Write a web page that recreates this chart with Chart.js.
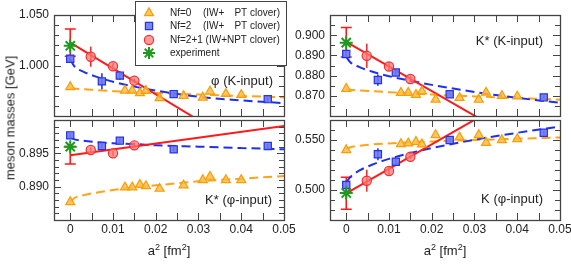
<!DOCTYPE html>
<html><head><meta charset="utf-8">
<script src="https://cdn.jsdelivr.net/npm/chart.js@4.4.1/dist/chart.umd.min.js"></script>
<style>
html,body{margin:0;padding:0;background:#fff;}
#wrap{position:relative;width:571px;height:275px;overflow:hidden;font-family:"Liberation Sans",Arial,sans-serif;color:#222;}
canvas{position:absolute;left:0;top:0;}
.t{position:absolute;white-space:nowrap;font-size:13px;line-height:1;}
.t sup{font-size:9px;vertical-align:5px;line-height:0;}
</style>
</head><body><div id="wrap">
<canvas id="c0" width="571" height="275" style="width:571px;height:275px"></canvas>
<canvas id="c1" width="571" height="275" style="width:571px;height:275px"></canvas>
<canvas id="c2" width="571" height="275" style="width:571px;height:275px"></canvas>
<canvas id="c3" width="571" height="275" style="width:571px;height:275px"></canvas>
<div class="t" id="ytitle" style="left:10px;top:118px;transform:translate(-50%,-50%) rotate(-90deg);">meson masses [GeV]</div>
<div class="t" style="left:169px;top:250px;transform:translate(-50%,-50%);">a<sup>2</sup> [fm<sup>2</sup>]</div>
<div class="t" style="left:445px;top:250px;transform:translate(-50%,-50%);">a<sup>2</sup> [fm<sup>2</sup>]</div>
</div>
<script>
// ---------- data ----------
const A2_NF0  = [0, 0.0128, 0.0145, 0.0163, 0.0177, 0.0209, 0.0265, 0.0310, 0.0327, 0.0364, 0.0400];
const A2_NF2  = [0, 0.0074, 0.0116, 0.0242, 0.0462];
const A2_NF21 = [0.0048, 0.0100, 0.0150];
const A2_FIT  = [0, 0.001, 0.003, 0.006, 0.01, 0.015, 0.02, 0.03, 0.04, 0.05];
const A2_LINE = [0, 0.05];

// phi (K-input)
const PHI_K_NF0 = [0.9787, 0.9753, 0.9753, 0.9727, 0.9750, 0.9677, 0.9700, 0.9683, 0.9743, 0.9720, 0.9710];
const PHI_K_NF2 = [1.0067, 0.9843, 0.9900, 0.9717, 0.9667];
const PHI_K_NF2_ERR = [0.003, 0.008, 0.004, 0.003, 0.003];
const PHI_K_NF21 = [1.0087, 0.9993, 0.9850];
const PHI_K_NF21_ERR = [0.010, 0.003, 0.002];
const PHI_K_EXTRAP = [1.0227, 0.0135];
const PHI_K_EXP = 1.0195;
const PHI_K_LINE = [1.0227, 0.8947];
const PHI_K_FIT0 = [0.9778, 0.9772, 0.9765, 0.9757, 0.9746, 0.9736, 0.9727, 0.9712, 0.9698, 0.9685];
const PHI_K_FIT2 = [1.0060, 0.9990, 0.9940, 0.9890, 0.9840, 0.9791, 0.9752, 0.9690, 0.9655, 0.9627];

// K* (K-input)
const KST_K_NF0 = [0.8735, 0.8715, 0.8715, 0.8705, 0.8722, 0.8682, 0.8690, 0.8681, 0.8716, 0.8700, 0.8697];
const KST_K_NF2 = [0.8907, 0.8778, 0.8815, 0.8708, 0.8692];
const KST_K_NF2_ERR = [0.0015, 0.0028, 0.001, 0.001, 0.001];
const KST_K_NF21 = [0.8898, 0.8845, 0.8783];
const KST_K_NF21_ERR = [0.006, 0.002, 0.0015];
const KST_K_EXTRAP = [0.8965, 0.0073];
const KST_K_EXP = 0.8963;
const KST_K_LINE = [0.8967, 0.8358];
const KST_K_FIT0 = [0.8735, 0.8730, 0.8727, 0.8723, 0.8718, 0.8712, 0.8706, 0.8697, 0.8689, 0.8681];
const KST_K_FIT2 = [0.8893, 0.8865, 0.8843, 0.8820, 0.8797, 0.8775, 0.8754, 0.8719, 0.8690, 0.8665];

// K* (phi-input)
const KST_PHI_NF0 = [0.8877, 0.8899, 0.8899, 0.8903, 0.8901, 0.8897, 0.8902, 0.8910, 0.8915, 0.8910, 0.8910];
const KST_PHI_NF2 = [0.8977, 0.8961, 0.8969, 0.8956, 0.8961];
const KST_PHI_NF2_ERR = [0.0003, 0.0003, 0.0003, 0.0003, 0.0003];
const KST_PHI_NF21 = [0.8955, 0.8950, 0.8962];
const KST_PHI_NF21_ERR = [0.0004, 0.0004, 0.0004];
const KST_PHI_EXTRAP = [0.8947, 0.0013];
const KST_PHI_EXP = 0.8960;
const KST_PHI_LINE = [0.8947, 0.8991];
const KST_PHI_FIT0 = [0.8877, 0.8883, 0.8887, 0.8891, 0.8895, 0.8899, 0.8902, 0.8908, 0.8912, 0.8916];
const KST_PHI_FIT2 = [0.8974, 0.8971, 0.8969, 0.8967, 0.8965, 0.8964, 0.8962, 0.8960, 0.8958, 0.8956];

// K (phi-input)
const K_PHI_NF0 = [0.5400, 0.5460, 0.5467, 0.5483, 0.5457, 0.5550, 0.5527, 0.5550, 0.5473, 0.5500, 0.5510];
const K_PHI_NF2 = [0.5050, 0.5357, 0.5283, 0.5500, 0.5573];
const K_PHI_NF2_ERR = [0.004, 0.006, 0.003, 0.002, 0.002];
const K_PHI_NF21 = [0.5093, 0.5190, 0.5333];
const K_PHI_NF21_ERR = [0.011, 0.004, 0.002];
const K_PHI_EXTRAP = [0.4967, 0.016];
const K_PHI_EXP = 0.4970;
const K_PHI_LINE = [0.4967, 0.6192];
const K_PHI_FIT0 = [0.5410, 0.5428, 0.5442, 0.5455, 0.5466, 0.5477, 0.5486, 0.5500, 0.5513, 0.5525];
const K_PHI_FIT2 = [0.5075, 0.5133, 0.5193, 0.5252, 0.5311, 0.5370, 0.5419, 0.5502, 0.5572, 0.5634];

// tick labels
const X_TICKS = [0, 0.01, 0.02, 0.03, 0.04, 0.05];
const X_TICK_LABELS = ['0', '0.01', '0.02', '0.03', '0.04', '0.05'];
const PHI_K_YTICKS = [1.000, 1.050];
const PHI_K_YTICK_LABELS = ['1.000', '1.050'];
const KST_K_YTICKS = [0.870, 0.880, 0.890, 0.900];
const KST_K_YTICK_LABELS = ['0.870', '0.880', '0.890', '0.900'];
const KST_PHI_YTICKS = [0.890, 0.895];
const KST_PHI_YTICK_LABELS = ['0.890', '0.895'];
const K_PHI_YTICKS = [0.500, 0.550];
const K_PHI_YTICK_LABELS = ['0.500', '0.550'];

const PANEL_LABELS = ['\u03c6 (K-input)', 'K* (K-input)', 'K* (\u03c6-input)', 'K (\u03c6-input)'];
const LEGEND_ROWS = [['Nf=0', '(IW+', 'PT clover)'], ['Nf=2', '(IW+', 'PT clover)'], ['Nf=2+1 (IW+NPT clover)'], ['experiment']];

// ---------- styles ----------
const FONT = '"Liberation Sans", Arial, sans-serif';
const C_OR_LINE = '#FFA31A', C_OR_FILL = 'rgba(255,186,80,0.85)', C_OR_EDGE = '#F5A000';
const C_BL_LINE = '#1F2FF0', C_BL_FILL = 'rgba(110,120,240,0.9)', C_BL_EDGE = '#2233EE';
const C_RD_LINE = '#FF1A1A', C_RD_FILL = 'rgba(255,120,120,0.75)', C_RD_EDGE = '#F03030';
const C_GR = '#1E9A1E';
const X_MIN = -0.0038, X_MAX = 0.05;

function pts(xs, ys) { return xs.map((x, i) => ({x: x, y: ys[i]})); }

const PANELS = [
  {id: 'c0', area: [54, 15, 284, 116], yr: [0.95, 1.05], ystep: 0.01, yt: PHI_K_YTICKS, ytl: PHI_K_YTICK_LABELS, xl: false,
   label: PANEL_LABELS[0], lpos: [273, 81], legend: true,
   nf0: PHI_K_NF0, nf2: PHI_K_NF2, nf2e: PHI_K_NF2_ERR, nf21: PHI_K_NF21, nf21e: PHI_K_NF21_ERR,
   ex: PHI_K_EXTRAP, exp: PHI_K_EXP, line: PHI_K_LINE, f0: PHI_K_FIT0, f2: PHI_K_FIT2},
  {id: 'c1', area: [330, 15, 560, 116], yr: [0.86, 0.91], ystep: 0.005, yt: KST_K_YTICKS, ytl: KST_K_YTICK_LABELS, xl: false,
   label: PANEL_LABELS[1], lpos: [543, 41],
   nf0: KST_K_NF0, nf2: KST_K_NF2, nf2e: KST_K_NF2_ERR, nf21: KST_K_NF21, nf21e: KST_K_NF21_ERR,
   ex: KST_K_EXTRAP, exp: KST_K_EXP, line: KST_K_LINE, f0: KST_K_FIT0, f2: KST_K_FIT2},
  {id: 'c2', area: [54, 120, 284, 220], yr: [0.885, 0.900], ystep: 0.001, yt: KST_PHI_YTICKS, ytl: KST_PHI_YTICK_LABELS, xl: true,
   label: PANEL_LABELS[2], lpos: [272, 200],
   nf0: KST_PHI_NF0, nf2: KST_PHI_NF2, nf2e: KST_PHI_NF2_ERR, nf21: KST_PHI_NF21, nf21e: KST_PHI_NF21_ERR,
   ex: KST_PHI_EXTRAP, exp: KST_PHI_EXP, line: KST_PHI_LINE, f0: KST_PHI_FIT0, f2: KST_PHI_FIT2},
  {id: 'c3', area: [330, 120, 560, 220], yr: [0.47, 0.57], ystep: 0.01, yt: K_PHI_YTICKS, ytl: K_PHI_YTICK_LABELS, xl: true,
   label: PANEL_LABELS[3], lpos: [543, 199],
   nf0: K_PHI_NF0, nf2: K_PHI_NF2, nf2e: K_PHI_NF2_ERR, nf21: K_PHI_NF21, nf21e: K_PHI_NF21_ERR,
   ex: K_PHI_EXTRAP, exp: K_PHI_EXP, line: K_PHI_LINE, f0: K_PHI_FIT0, f2: K_PHI_FIT2}
];

function stepList(a, b, s) {
  const out = []; const n = Math.round((b - a) / s);
  for (let i = 0; i <= n; i++) out.push(+(a + i * s).toFixed(6));
  return out;
}

function drawMarker(ctx, kind, x, y) {
  ctx.save();
  ctx.lineWidth = 1.2;
  if (kind === 'tri') {
    const r = 5.2;
    ctx.beginPath();
    ctx.moveTo(x, y - r);
    ctx.lineTo(x + r * 0.866, y + r * 0.5);
    ctx.lineTo(x - r * 0.866, y + r * 0.5);
    ctx.closePath();
    ctx.fillStyle = C_OR_FILL; ctx.strokeStyle = C_OR_EDGE; ctx.fill(); ctx.stroke();
  } else if (kind === 'sq') {
    ctx.beginPath(); ctx.rect(x - 3.6, y - 3.6, 7.2, 7.2);
    ctx.fillStyle = C_BL_FILL; ctx.strokeStyle = C_BL_EDGE; ctx.fill(); ctx.stroke();
  } else if (kind === 'ci') {
    ctx.beginPath(); ctx.arc(x, y, 4.6, 0, Math.PI * 2);
    ctx.fillStyle = C_RD_FILL; ctx.strokeStyle = C_RD_EDGE; ctx.fill(); ctx.stroke();
  } else {
    const r = 6; ctx.strokeStyle = C_GR; ctx.lineWidth = 2;
    ctx.beginPath();
    for (let k = 0; k < 4; k++) {
      const a = k * Math.PI / 4;
      ctx.moveTo(x - r * Math.cos(a), y - r * Math.sin(a));
      ctx.lineTo(x + r * Math.cos(a), y + r * Math.sin(a));
    }
    ctx.stroke();
  }
  ctx.restore();
}

function drawLegend(ctx) {
  ctx.save();
  ctx.fillStyle = '#fff';
  ctx.fillRect(135.5, 1.5, 151, 64);
  ctx.strokeStyle = '#444'; ctx.lineWidth = 1;
  ctx.strokeRect(135.5, 1.5, 151, 64);
  const ys = [13, 26, 40, 53];
  const kinds = ['tri', 'sq', 'ci', 'star'];
  ctx.font = '10px ' + FONT; ctx.fillStyle = '#222'; ctx.textBaseline = 'middle';
  LEGEND_ROWS.forEach((row, i) => {
    drawMarker(ctx, kinds[i], 149, ys[i]);
    ctx.textAlign = 'left';
    ctx.fillText(row[0], 170, ys[i]);
    if (row.length > 1) {
      ctx.fillText(row[1], 203, ys[i]);
      ctx.textAlign = 'right';
      ctx.fillText(row[2], 280, ys[i]);
    }
  });
  ctx.restore();
}

function makeChart(p) {
  const xTicks = stepList(0, 0.05, 0.005);
  const yTicks = stepList(p.yr[0], p.yr[1], p.ystep);
  const errs = [];
  A2_NF2.forEach((x, i) => errs.push({x: x, y: p.nf2[i], e: p.nf2e[i], c: C_BL_EDGE, cap: 0}));
  A2_NF21.forEach((x, i) => errs.push({x: x, y: p.nf21[i], e: p.nf21e[i], c: C_RD_EDGE, cap: 0}));
  errs.push({x: 0, y: p.ex[0], e: p.ex[1], c: C_RD_LINE, cap: 5.5});

  const plugin = {
    id: 'panel_' + p.id,
    beforeDatasetsDraw(chart) {
      const ctx = chart.ctx, a = chart.chartArea, xs = chart.scales.x, ys = chart.scales.y;
      ctx.save();
      ctx.beginPath(); ctx.rect(a.left, a.top - 2, a.right - a.left, a.bottom - a.top + 4); ctx.clip();
      errs.forEach(e => {
        const px = xs.getPixelForValue(e.x);
        const p1 = ys.getPixelForValue(e.y - e.e), p2 = ys.getPixelForValue(e.y + e.e);
        ctx.strokeStyle = e.c; ctx.lineWidth = 1.6;
        ctx.beginPath(); ctx.moveTo(px, p1); ctx.lineTo(px, p2);
        if (e.cap) {
          ctx.moveTo(px - e.cap, p1); ctx.lineTo(px + e.cap, p1);
          ctx.moveTo(px - e.cap, p2); ctx.lineTo(px + e.cap, p2);
        }
        ctx.stroke();
      });
      ctx.restore();
    },
    afterDraw(chart) {
      const ctx = chart.ctx, a = chart.chartArea, xs = chart.scales.x, ys = chart.scales.y;
      ctx.save();
      ctx.strokeStyle = '#444'; ctx.lineWidth = 1.3;
      ctx.strokeRect(a.left + 0.5, a.top + 0.5, a.right - a.left, a.bottom - a.top);
      ctx.lineWidth = 1;
      ctx.beginPath();
      xTicks.forEach(v => {
        const px = Math.round(xs.getPixelForValue(v)) + 0.5;
        ctx.moveTo(px, a.bottom); ctx.lineTo(px, a.bottom - 7);
        ctx.moveTo(px, a.top); ctx.lineTo(px, a.top + 7);
      });
      yTicks.forEach(v => {
        const py = Math.round(ys.getPixelForValue(v)) + 0.5;
        const major = p.yt.some(t => Math.abs(t - v) < 1e-7);
        const len = major ? 7 : 5;
        ctx.moveTo(a.left, py); ctx.lineTo(a.left + len, py);
        ctx.moveTo(a.right, py); ctx.lineTo(a.right - len, py);
      });
      ctx.stroke();
      ctx.fillStyle = '#222';
      ctx.font = '12px ' + FONT;
      ctx.textAlign = 'right'; ctx.textBaseline = 'middle';
      p.yt.forEach((v, i) => ctx.fillText(p.ytl[i], a.left - 5, ys.getPixelForValue(v)));
      if (p.xl) {
        ctx.textAlign = 'center'; ctx.textBaseline = 'top';
        X_TICKS.forEach((v, i) => ctx.fillText(X_TICK_LABELS[i], xs.getPixelForValue(v), a.bottom + 4));
      }
      ctx.font = '13px ' + FONT; ctx.textAlign = 'right'; ctx.textBaseline = 'middle';
      ctx.fillText(p.label, p.lpos[0], p.lpos[1]);
      ctx.restore();
      if (p.legend) drawLegend(ctx);
    }
  };

  const datasets = [
    {label: 'experiment', data: [{x: 0, y: p.exp}], showLine: false, pointStyle: 'star', pointRadius: 6.5,
     borderColor: C_GR, backgroundColor: C_GR, pointBorderWidth: 2, order: 0},
    {label: 'Nf=2+1', data: pts(A2_NF21, p.nf21), showLine: false, pointStyle: 'circle', pointRadius: 4.6,
     backgroundColor: C_RD_FILL, borderColor: C_RD_EDGE, pointBorderWidth: 1.2, order: 1},
    {label: 'Nf=2', data: pts(A2_NF2, p.nf2), showLine: false, pointStyle: 'rect', pointRadius: 5.1,
     backgroundColor: C_BL_FILL, borderColor: C_BL_EDGE, pointBorderWidth: 1.2, order: 1},
    {label: 'Nf=0', data: pts(A2_NF0, p.nf0), showLine: false, pointStyle: 'triangle', pointRadius: 5.2,
     backgroundColor: C_OR_FILL, borderColor: C_OR_EDGE, pointBorderWidth: 1.2, order: 1},
    {label: 'fit 2+1', data: pts(A2_LINE, p.line), showLine: true, pointRadius: 0, borderColor: C_RD_LINE,
     borderWidth: 2, order: 2},
    {label: 'fit 2', data: pts(A2_FIT, p.f2), showLine: true, pointRadius: 0, borderColor: C_BL_LINE,
     borderWidth: 2, borderDash: [9, 5], cubicInterpolationMode: 'monotone', order: 2},
    {label: 'fit 0', data: pts(A2_FIT, p.f0), showLine: true, pointRadius: 0, borderColor: C_OR_LINE,
     borderWidth: 2, borderDash: [9, 5], cubicInterpolationMode: 'monotone', order: 2}
  ];

  return new Chart(document.getElementById(p.id), {
    type: 'scatter',
    data: {datasets: datasets},
    options: {
      responsive: false, animation: false, devicePixelRatio: 1,
      layout: {padding: {left: p.area[0], top: p.area[1], right: 571 - p.area[2], bottom: 275 - p.area[3]}},
      plugins: {legend: {display: false}, tooltip: {enabled: false}},
      scales: {
        x: {type: 'linear', min: X_MIN, max: X_MAX, display: false},
        y: {type: 'linear', min: p.yr[0], max: p.yr[1], display: false}
      }
    },
    plugins: [plugin]
  });
}

PANELS.forEach(makeChart);
</script>
</body></html>
